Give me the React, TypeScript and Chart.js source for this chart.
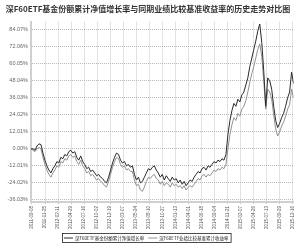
import React, { useEffect, useRef } from "react";
import { Chart, registerables } from "chart.js";

Chart.register(...registerables);

const titleText = "深F60ETF基金份额累计净值增长率与同期业绩比较基准收益率的历史走势对比图";
const seriesNames = ["深F60ETF基金份额累计净值增长率", "深F60ETF业绩比较基准累计收益率"];

const xTickLabels = [
  "2011-09-08", "2011-11-25", "2012-02-11", "2012-04-29", "2012-07-16", "2012-10-02",
  "2012-12-19", "2013-03-07", "2013-05-24", "2013-08-10", "2013-10-27", "2014-01-13",
  "2014-04-01", "2014-06-18", "2014-09-04", "2014-11-21", "2015-02-07", "2015-04-26",
  "2015-07-13", "2015-09-29", "2015-12-16",
];

const yTickValues = [-36.03, -24.02, -12.01, 0, 12.01, 24.02, 36.03, 48.04, 60.05, 72.06, 84.07];

const fundValues = [
  0, 0, -1, 2, 3.5, 3, -3, -8, -12, -15, -17, -14, -12, -9, -10, -6, -7, -4, -5, -2,
  -1, -3, -2, -6, -8, -5, -9, -11, -14, -13, -16, -15, -17, -19, -18, -20, -21, -23, -24, -20,
  -15, -10, -6, -3, -4, -8, -10, -9, -12, -11, -13, -12, -18, -22, -20, -24, -23, -20, -17, -14,
  -15, -13, -12, -15, -17, -20, -18, -22, -19, -21, -23, -20, -22, -21, -24, -22, -25, -23, -26, -24,
  -22, -23, -20, -18, -16, -17, -14, -13, -15, -12, -13, -11, -9, -10, -8, -9, -7, -8, -4, 10,
  20, 27, 32, 30, 35, 33, 38, 40, 45, 50, 58, 64, 70, 76, 83, 88, 75, 55, 30, 50,
  48, 42, 30, 20, 15, 18, 22, 25, 30, 36, 40, 54, 46,
];

const benchValues = [
  0, -1, -2, 0, 1, 0, -6, -11, -15, -18, -20, -17, -15, -12, -13, -9, -10, -7, -8, -5,
  -4, -6, -5, -9, -11, -8, -12, -14, -17, -16, -19, -18, -20, -22, -21, -23, -24, -26, -27, -23,
  -18, -13, -9, -6, -7, -11, -13, -12, -15, -14, -16, -16, -22, -26, -25, -29, -30, -27, -23, -20,
  -21, -19, -18, -21, -22, -25, -23, -26, -24, -25, -27, -24, -26, -25, -27, -26, -28, -26, -29, -27,
  -26, -27, -25, -23, -21, -22, -19, -18, -20, -18, -19, -17, -15, -16, -14, -15, -13, -14, -11, 0,
  10, 17, 22, 20, 25, 23, 28, 30, 34, 40, 47, 53, 58, 64, 70, 74, 65, 48, 28, 42,
  40, 35, 24, 14, 9, 12, 16, 19, 23, 28, 31, 42, 36,
];

const seriesColors = ["#2a2a2a", "#909090"];

const legendPlugin = {
  id: "boxedLegend",
  afterDraw(chart: any) {
    const ctx = chart.ctx;
    ctx.save();
    ctx.font = '4.5px "Noto Sans CJK SC"';
    ctx.textBaseline = "middle";
    const lineLen = 9;
    const gap = 2;
    const itemGap = 4;
    const widths = seriesNames.map((n) => ctx.measureText(n).width);
    const total = widths.reduce((a, b) => a + b, 0) + seriesNames.length * (lineLen + gap) + itemGap + 4;
    const x0 = 62;
    const y0 = 233;
    const h = 9;
    ctx.strokeStyle = "#222";
    ctx.lineWidth = 0.8;
    ctx.strokeRect(x0 + 0.5, y0 + 0.5, total, h);
    let x = x0 + 2;
    const cy = y0 + h / 2 + 0.5;
    seriesNames.forEach((n, i) => {
      ctx.strokeStyle = seriesColors[i];
      ctx.lineWidth = 1;
      ctx.beginPath();
      ctx.moveTo(x, cy);
      ctx.lineTo(x + lineLen, cy);
      ctx.stroke();
      x += lineLen + gap;
      ctx.fillStyle = "#222";
      ctx.fillText(n, x, cy);
      x += widths[i] + itemGap;
    });
    ctx.restore();
  },
};

export default function App() {
  const ref = useRef<HTMLCanvasElement | null>(null);
  useEffect(() => {
    if (!ref.current) return;
    const data = {
      datasets: [
        {
          label: seriesNames[0],
          data: fundValues.map((v, i) => ({ x: i, y: v })),
          borderColor: seriesColors[0],
          borderWidth: 1,
          pointRadius: 0,
          tension: 0,
        },
        {
          label: seriesNames[1],
          data: benchValues.map((v, i) => ({ x: i, y: v })),
          borderColor: seriesColors[1],
          borderWidth: 1,
          pointRadius: 0,
          tension: 0,
        },
      ],
    };
    const n = fundValues.length - 1;
    const chart = new Chart(ref.current, {
      type: "line",
      data: data as any,
      plugins: [legendPlugin],
      options: {
        animation: false,
        responsive: false,
        maintainAspectRatio: false,
        layout: { padding: { left: 0, right: 4, top: 0, bottom: 15 } },
        plugins: {
          legend: { display: false },
          tooltip: { enabled: false },
          title: {
            display: true,
            text: titleText,
            color: "#333",
            font: { family: '"Noto Sans CJK SC"', size: 8, weight: "bold" },
            padding: { top: 4, bottom: 8 },
          },
        },
        scales: {
          x: {
            type: "linear",
            min: 0,
            max: n,
            afterBuildTicks: (scale: any) => {
              const step = (n - 1) / (xTickLabels.length - 1);
              scale.ticks = xTickLabels.map((_, k) => ({ value: 0.5 + k * step }));
            },
            afterFit: (scale: any) => {
              scale.height = 28;
            },
            ticks: {
              autoSkip: false,
              maxRotation: 90,
              minRotation: 90,
              padding: 2,
              color: "#555",
              font: { family: '"Liberation Sans"', size: 4.5 },
              callback: (_v: any, i: number) => xTickLabels[i],
            },
            grid: {
              color: "#b8b8b8",
              lineWidth: 0.8,
              drawTicks: true,
              tickLength: 2,
            },
            border: { color: "#d0d0d0", width: 2, dash: [1, 1] },
          },
          y: {
            min: -37.5,
            max: 89.7,
            afterBuildTicks: (scale: any) => {
              scale.ticks = yTickValues.map((v) => ({ value: v }));
            },
            afterFit: (scale: any) => {
              scale.width = 31;
            },
            ticks: {
              padding: 3,
              color: "#666",
              font: { family: '"Liberation Sans"', size: 5.5 },
              callback: (v: any) => Number(v).toFixed(2) + "%",
            },
            grid: {
              color: "#a8a8a8",
              lineWidth: 0.8,
              drawTicks: false,
            },
            border: { color: "#d0d0d0", width: 2, dash: [1, 1] },
          },
        },
      } as any,
    });
    return () => chart.destroy();
  }, []);
  return (
    <div style={{ position: "fixed", left: 0, top: 0, width: 300, height: 245, background: "#fff" }}>
      <canvas ref={ref} width={300} height={245} style={{ width: 300, height: 245 }} />
    </div>
  );
}
